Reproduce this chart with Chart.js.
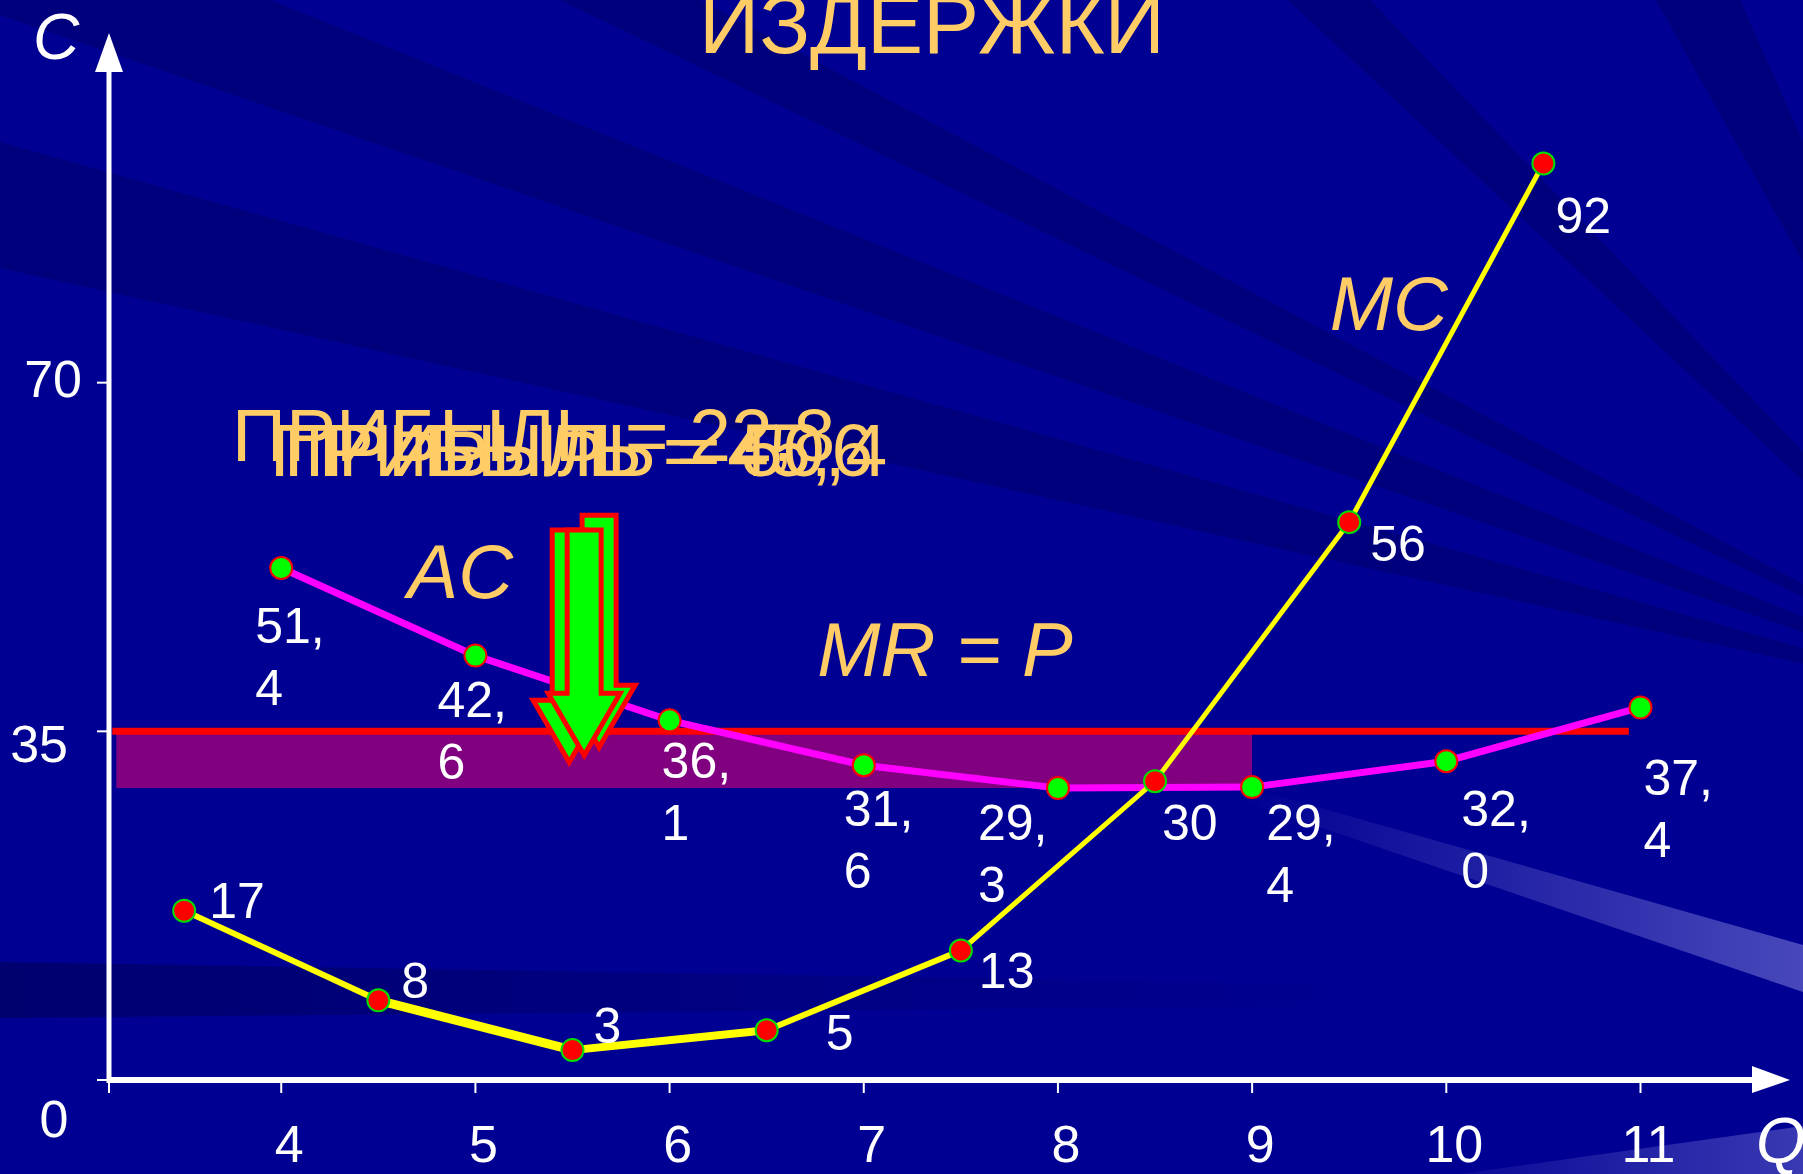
<!DOCTYPE html>
<html>
<head>
<meta charset="utf-8">
<script src="https://cdn.jsdelivr.net/npm/chart.js@4.4.0/dist/chart.umd.min.js"></script>
<style>
  html, body { margin: 0; padding: 0; background: #000092; }
  #wrap { width: 1803px; height: 1174px; position: relative; }
</style>
</head>
<body>
<div id="wrap"><canvas id="myChart"></canvas></div>
<script>
// --- data ---
var mcQ = [3.5, 4.5, 5.5, 6.5, 7.5, 8.5, 9.5, 10.5];
var mcValues = [17, 8, 3, 5, 13, 30, 56, 92];
var acQ = [4, 5, 6, 7, 8, 9, 10, 11];
var acValues = [51.4, 42.6, 36.1, 31.6, 29.3, 29.4, 32.0, 37.4];
var price = 35;
var priceFrom = 3.13, priceTo = 10.94;
var profitFrom = 3.15, profitTo = 9;
var profitFloor = 29.3;
var xTicks = [4, 5, 6, 7, 8, 9, 10, 11];
var yTicks = [35, 70];
var profitTexts = ['ПРИБЫЛЬ = 22,8', 'ПРИБЫЛЬ = 45,6', 'ПРИБЫЛЬ = 50,4'];

// styling / label nudges (px)
var mcSegWidth = [6, 9, 8, 6, 5, 5, 5];
var mcLabelOff = [[25,-6],[23,-16],[21,-21],[59,6],[18,24],[7,45],[21,25],[12,56]];
var acLabelOff = [[-26,61],[-38,48],[-8,44],[-20,47],[-80,38],[14,39],[15,51],[3,74]];

var orange = '#FFCC66';
var fontFam = '"Liberation Sans", Arial, sans-serif';

function pts(xs, ys) {
  return xs.map(function(x, i) { return {x: x, y: ys[i]}; });
}

var bgPlugin = {
  id: 'bg',
  beforeDraw: function(chart) {
    var ctx = chart.ctx, w = chart.width, h = chart.height;
    ctx.save();
    ctx.fillStyle = '#000092';
    ctx.fillRect(0, 0, w, h);
    // rays converging somewhere off the right edge
    var F = [2060, 720];
    var dark = [
      [[0, 15], [0, 0], [270, 0]],
      [[0, 142], [0, 268]],
      [[560, 0], [700, 0]],
      [[1288, 0], [1370, 0]],
      [[1656, 0], [1740, 0]]
    ];
    ctx.fillStyle = 'rgba(0,0,30,0.19)';
    dark.forEach(function(b) {
      ctx.beginPath();
      ctx.moveTo(F[0], F[1]);
      b.forEach(function(p) { ctx.lineTo(p[0], p[1]); });
      ctx.closePath();
      ctx.fill();
    });
    // soft dark band near the bottom
    var g = ctx.createLinearGradient(0, 0, 1400, 0);
    g.addColorStop(0, 'rgba(0,0,30,0.3)');
    g.addColorStop(1, 'rgba(0,0,30,0)');
    ctx.fillStyle = g;
    ctx.beginPath();
    ctx.moveTo(0, 962); ctx.lineTo(1400, 985); ctx.lineTo(1400, 1005); ctx.lineTo(0, 1018);
    ctx.closePath(); ctx.fill();
    // light beam lower right
    g = ctx.createLinearGradient(1240, 0, 1803, 0);
    g.addColorStop(0, 'rgba(190,190,255,0)');
    g.addColorStop(1, 'rgba(190,190,255,0.38)');
    ctx.fillStyle = g;
    ctx.beginPath();
    ctx.moveTo(1240, 785); ctx.lineTo(1803, 945); ctx.lineTo(1803, 992); ctx.lineTo(1240, 800);
    ctx.closePath(); ctx.fill();
    g = ctx.createLinearGradient(1460, 0, 1803, 0);
    g.addColorStop(0, 'rgba(190,190,255,0.05)');
    g.addColorStop(1, 'rgba(190,190,255,0.3)');
    ctx.fillStyle = g;
    ctx.beginPath();
    ctx.moveTo(1460, 1174); ctx.lineTo(1803, 1126); ctx.lineTo(1803, 1174);
    ctx.closePath(); ctx.fill();
    ctx.restore();
  }
};

function drawArrow(ctx, cx, top, tip) {
  var sw = 17, hw = 36, hl = 62;
  ctx.beginPath();
  ctx.moveTo(cx - sw, top);
  ctx.lineTo(cx + sw, top);
  ctx.lineTo(cx + sw, tip - hl);
  ctx.lineTo(cx + hw, tip - hl);
  ctx.lineTo(cx, tip);
  ctx.lineTo(cx - hw, tip - hl);
  ctx.lineTo(cx - sw, tip - hl);
  ctx.closePath();
  ctx.fillStyle = '#00FF00';
  ctx.fill();
  ctx.lineWidth = 5;
  ctx.strokeStyle = '#FF0000';
  ctx.lineJoin = 'miter';
  ctx.stroke();
}

var overlayPlugin = {
  id: 'overlay',
  afterDatasetsDraw: function(chart) {
    var ctx = chart.ctx, xs = chart.scales.x, ys = chart.scales.y;
    var x0 = xs.getPixelForValue(xs.min), y0 = ys.getPixelForValue(0);
    var xEnd = xs.getPixelForValue(xs.max), yEnd = ys.getPixelForValue(ys.max);
    ctx.save();
    // axes with arrow heads
    ctx.strokeStyle = '#FFFFFF';
    ctx.fillStyle = '#FFFFFF';
    ctx.lineWidth = 5;
    ctx.beginPath(); ctx.moveTo(x0, y0 + 3); ctx.lineTo(x0, yEnd + 38); ctx.stroke();
    ctx.beginPath(); ctx.moveTo(x0 - 14, yEnd + 39); ctx.lineTo(x0, yEnd); ctx.lineTo(x0 + 14, yEnd + 39); ctx.closePath(); ctx.fill();
    ctx.lineWidth = 6;
    ctx.beginPath(); ctx.moveTo(x0, y0); ctx.lineTo(xEnd - 36, y0); ctx.stroke();
    ctx.beginPath(); ctx.moveTo(xEnd - 38, y0 - 14); ctx.lineTo(xEnd, y0); ctx.lineTo(xEnd - 38, y0 + 13); ctx.closePath(); ctx.fill();
    ctx.lineWidth = 2;
    [xs.min].concat(xTicks).forEach(function(v) {
      var px = xs.getPixelForValue(v);
      ctx.beginPath(); ctx.moveTo(px, y0); ctx.lineTo(px, y0 + 13); ctx.stroke();
    });
    [0].concat(yTicks).forEach(function(v) {
      var py = ys.getPixelForValue(v);
      ctx.beginPath(); ctx.moveTo(x0 - 12, py); ctx.lineTo(x0, py); ctx.stroke();
    });
    // tick labels
    ctx.font = '52px ' + fontFam;
    ctx.textBaseline = 'middle';
    ctx.textAlign = 'center';
    xTicks.forEach(function(v) {
      ctx.fillText(String(v), xs.getPixelForValue(v) + 8, y0 + 68);
    });
    ctx.fillText('0', x0 - 55, y0 + 43);
    ctx.textAlign = 'right';
    yTicks.forEach(function(v) {
      var nudge = v === 35 ? [-41, 16] : [-27, 0];
      ctx.fillText(String(v), x0 + nudge[0], ys.getPixelForValue(v) + nudge[1]);
    });
    ctx.textAlign = 'left';
    ctx.font = 'italic 64px ' + fontFam;
    ctx.textBaseline = 'alphabetic';
    ctx.fillText('C', x0 - 76, yEnd + 26);
    ctx.fillText('Q', xEnd - 34, y0 + 83);

    // data labels
    ctx.font = '50px ' + fontFam;
    ctx.textBaseline = 'middle';
    ctx.fillStyle = '#FFFFFF';
    var mcMeta = chart.getDatasetMeta(0), acMeta = chart.getDatasetMeta(1);
    mcMeta.data.forEach(function(el, i) {
      ctx.fillText(String(mcValues[i]), el.x + mcLabelOff[i][0], el.y + mcLabelOff[i][1]);
    });
    acMeta.data.forEach(function(el, i) {
      var s = acValues[i].toFixed(1).split('.');
      ctx.fillText(s[0] + ',', el.x + acLabelOff[i][0], el.y + acLabelOff[i][1]);
      ctx.fillText(s[1], el.x + acLabelOff[i][0], el.y + acLabelOff[i][1] + 62);
    });

    // curve names
    ctx.fillStyle = orange;
    ctx.font = 'italic 76px ' + fontFam;
    ctx.textBaseline = 'alphabetic';
    ctx.fillText('AC', xs.getPixelForValue(4.65), ys.getPixelForValue(48.4));
    ctx.fillText('MC', xs.getPixelForValue(9.40), ys.getPixelForValue(75.3));
    ctx.fillText('MR = P', xs.getPixelForValue(6.76), ys.getPixelForValue(40.6));

    // title
    ctx.font = '84px ' + fontFam;
    ctx.textAlign = 'center';
    ctx.fillText('ИЗДЕРЖКИ', 932, 53);

    // profit texts stacked as on the slide
    ctx.textAlign = 'left';
    ctx.font = '75px ' + fontFam;
    var pPos = [[232, 461], [270, 476], [284, 476]];
    profitTexts.forEach(function(t, i) { ctx.fillText(t, pPos[i][0], pPos[i][1]); });

    // arrows
    drawArrow(ctx, xs.getPixelForValue(5.637), ys.getPixelForValue(56.7), ys.getPixelForValue(33.4));
    drawArrow(ctx, xs.getPixelForValue(5.483), ys.getPixelForValue(55.2), ys.getPixelForValue(31.9));
    drawArrow(ctx, xs.getPixelForValue(5.560), ys.getPixelForValue(55.2), ys.getPixelForValue(32.6));
    ctx.restore();
  }
};

new Chart('myChart', {
  type: 'scatter',
  data: {
    datasets: [{
      label: 'MC',
      data: pts(mcQ, mcValues),
      showLine: true,
      borderColor: '#FFFF00',
      borderWidth: 5,
      segment: {
        borderWidth: function(c) { return mcSegWidth[c.p0DataIndex]; }
      },
      pointRadius: 11,
      pointBorderWidth: 2,
      pointBackgroundColor: '#FF0000',
      pointBorderColor: '#00E000',
      order: 1
    }, {
      label: 'AC',
      data: pts(acQ, acValues),
      showLine: true,
      borderColor: '#FF00FF',
      borderWidth: 7,
      pointRadius: 11,
      pointBorderWidth: 2,
      pointBackgroundColor: '#00FF00',
      pointBorderColor: '#FF0000',
      order: 2
    }, {
      label: 'MR = P',
      data: [{x: priceFrom, y: price}, {x: priceTo, y: price}],
      showLine: true,
      borderColor: '#FF0000',
      borderWidth: 7,
      pointRadius: 0,
      order: 3
    }, {
      label: 'profit',
      data: [{x: profitFrom, y: profitFloor}, {x: profitTo, y: profitFloor}],
      showLine: true,
      borderWidth: 0,
      borderColor: 'rgba(0,0,0,0)',
      backgroundColor: '#800080',
      fill: {value: price},
      pointRadius: 0,
      order: 4
    }]
  },
  options: {
    responsive: true,
    maintainAspectRatio: false,
    animation: false,
    layout: {
      padding: {left: 109, right: 11, top: 33, bottom: 94}
    },
    plugins: {
      legend: { display: false },
      title: { display: false },
      tooltip: { enabled: false }
    },
    scales: {
      x: { type: 'linear', min: 3.113, max: 11.77, display: false },
      y: { type: 'linear', min: 0, max: 105.1, display: false }
    }
  },
  plugins: [bgPlugin, overlayPlugin]
});
</script>
</body>
</html>
